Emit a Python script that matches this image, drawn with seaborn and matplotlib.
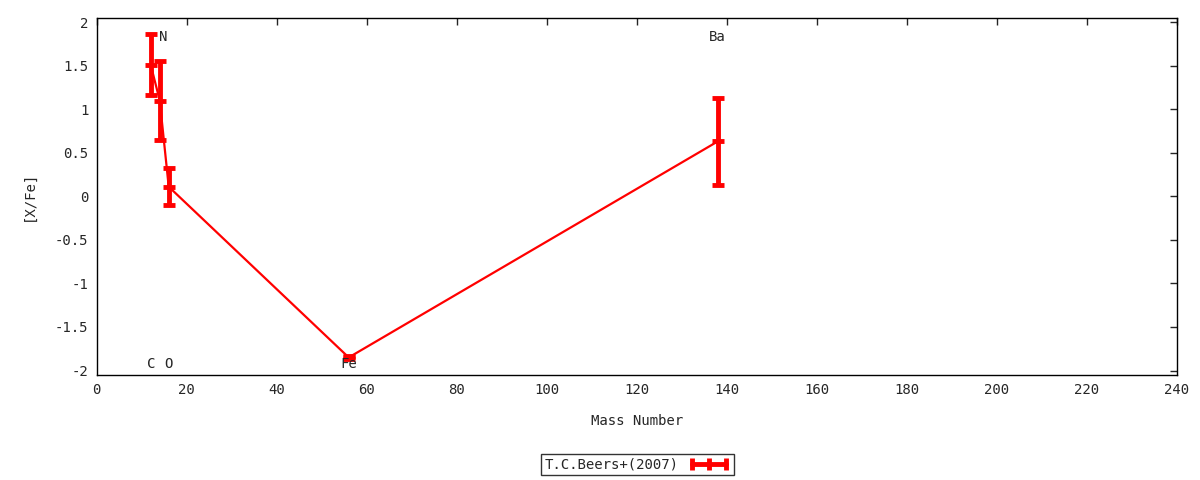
import matplotlib
matplotlib.use("Agg")
import matplotlib.pyplot as plt
from matplotlib.lines import Line2D
import seaborn as sns
import pandas as pd

# ── Data ─────────────────────────────────────────────────────────────────
ELEMENTS = ["C", "N", "O", "Fe", "Ba"]
MASS_NUMBER = [12, 14, 16, 56, 138]
X_FE = [1.51, 1.10, 0.11, -1.85, 0.63]
X_FE_ERR = [0.35, 0.45, 0.21, 0.02, 0.50]
LABEL_Y = [-1.92, 1.83, -1.92, -1.92, 1.83]
SERIES_NAME = "T.C.Beers+(2007)"

X_TICKS = list(range(0, 241, 20))
Y_TICKS = [2, 1.5, 1, 0.5, 0, -0.5, -1, -1.5, -2]
Y_TICK_LABELS = ["2", "1.5", "1", "0.5", "0", "-0.5", "-1", "-1.5", "-2"]

FS = 10.1

sns.set_style("white")
plt.rcParams["font.family"] = ["DejaVu Sans Mono", "DejaVu Sans"]
plt.rcParams["font.size"] = FS

df = pd.DataFrame({"mass": MASS_NUMBER, "xfe": X_FE, "err": X_FE_ERR})

fig = plt.figure(figsize=(12, 4.8), dpi=100)
ax = fig.add_axes([0.0806, 0.219, 0.9, 0.744])

sns.lineplot(data=df, x="mass", y="xfe", color="red", linewidth=1.6,
             ax=ax, legend=False, sort=False)
ax.errorbar(df["mass"], df["xfe"], yerr=df["err"], fmt="none",
            ecolor="red", elinewidth=3.5, capsize=4, capthick=3.5)
ax.plot(df["mass"], df["xfe"], linestyle="none", marker="_",
        markersize=9, markeredgewidth=3.5, color="red")

for name, x, y in zip(ELEMENTS, MASS_NUMBER, LABEL_Y):
    dx = 0.8 if name == "N" else 0
    ax.text(x + dx, y, name, ha="center", va="center", fontsize=FS)

ax.set_xlim(0, 240)
ax.set_ylim(-2.05, 2.05)
ax.set_xticks(X_TICKS)
ax.set_yticks(Y_TICKS)
ax.set_yticklabels(Y_TICK_LABELS)
ax.tick_params(direction="in", length=5, width=1, top=True, right=True,
               labeltop=False, labelright=False, pad=6, labelsize=FS)
for side in ax.spines.values():
    side.set_visible(True)
    side.set_color("black")
    side.set_linewidth(1)

ax.set_xlabel("Mass Number", labelpad=12, fontsize=FS)
ax.set_ylabel("[X/Fe]", labelpad=14, fontsize=FS)

# legend in gnuplot style: text on the left, sample on the right
handle = Line2D([], [], color="red", linewidth=3.5, marker="|",
                markersize=9, markeredgewidth=3.5)
leg = fig.legend([handle], [SERIES_NAME], loc="center",
                 bbox_to_anchor=(0.531, 0.032), frameon=True,
                 fancybox=False, edgecolor="black", markerfirst=False,
                 numpoints=3, handlelength=3.0, handletextpad=0.7,
                 borderpad=0.25, borderaxespad=0, fontsize=FS)
leg.get_frame().set_linewidth(1)

fig.savefig("out.png", dpi=100)
